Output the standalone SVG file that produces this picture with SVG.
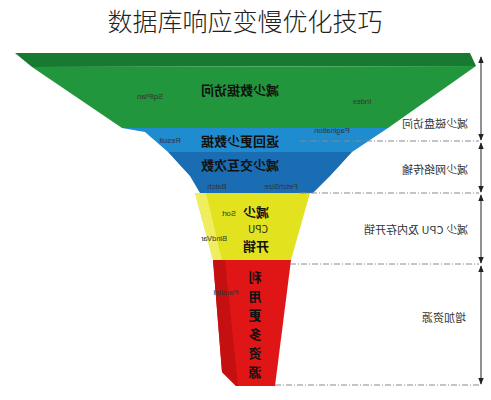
<svg xmlns="http://www.w3.org/2000/svg" width="491" height="400" viewBox="0 0 491 400">
<defs>
<marker id="ah" viewBox="0 0 10 10" refX="9" refY="5" markerWidth="7" markerHeight="7" orient="auto-start-reverse" markerUnits="userSpaceOnUse">
<path d="M0,1 L10,5 L0,9 z" fill="#222"/>
</marker>
<style>
.t{font-family:"Noto Sans CJK SC","Liberation Sans",sans-serif;}
.big{font-size:13px;font-weight:bold;fill:#111;text-anchor:middle;}
.sm{font-size:7.5px;fill:#333;text-anchor:middle;font-family:"Liberation Sans",sans-serif;}
.rl{font-size:11px;fill:#333;text-anchor:middle;}
.dash{stroke:#8a8a8a;stroke-width:1;stroke-dasharray:6,2,1,2;fill:none;}
.arr{stroke:#222;stroke-width:1;fill:none;marker-start:url(#ah);marker-end:url(#ah);}
</style>
</defs>
<rect width="491" height="400" fill="#fff"/>
<text class="t" x="245" y="31" font-size="25" font-weight="300" fill="#222" text-anchor="middle">数据库响应变慢优化技巧</text>

<g id="green">
<polygon points="15,53 470,53 476,66 32,67" fill="#167a30"/>
<polygon points="32,67 476,66 388,128 122,128" fill="#22963c"/>
<text class="t big" transform="translate(240,95) scale(-1,1)" font-size="14">减少数据访问</text>
<text class="sm" transform="translate(150,99) scale(-1,1)">SqlPlan</text>
<text class="sm" transform="translate(362,104) scale(-1,1)">Index</text>
</g>
<g id="blue1">
<polygon points="122,128 388,128 352,152 168,152 145,132" fill="#1e8ccf"/>
<text class="t big" transform="translate(240,146) scale(-1,1)" font-size="12">返回更少数据</text>
<text class="sm" transform="translate(170,143) scale(-1,1)">Result</text>
<text class="sm" transform="translate(332,133) scale(-1,1)">Pagination</text>
</g>
<g id="blue2">
<polygon points="168,152 352,152 330,176 313,193 200,193 190,176" fill="#1a6db3"/>
<text class="t big" transform="translate(240,170) scale(-1,1)" font-size="12">减少交互次数</text>
<text class="sm" transform="translate(217,189) scale(-1,1)">Batch</text>
<text class="sm" transform="translate(281,189) scale(-1,1)">FetchSize</text>
</g>
<g id="yellow">
<polygon points="195,193 310,193 291,260 213,260" fill="#e2e21e"/>
<polygon points="195,193 206,193 222,260 213,260" fill="#eeee60"/>
<text class="t big" transform="translate(256,217) scale(-1,1)" font-size="12">减少</text>
<text class="t" transform="translate(258,233) scale(-1,1)" font-size="10" fill="#222" text-anchor="middle">CPU</text>
<text class="t big" transform="translate(256,251) scale(-1,1)" font-size="12">开销</text>
<text class="sm" transform="translate(229,216) scale(-1,1)">Sort</text>
<text class="sm" transform="translate(214,241) scale(-1,1)">BindVar</text>
</g>
<g id="red">
<polygon points="213,260 291,260 275,386 236,386 222,372" fill="#e01616"/>
<polygon points="213,260 225,260 238,386 236,386 222,372" fill="#c41010"/>
<g class="t big" font-size="12">
<text transform="translate(255,282) scale(-1,1)">利</text>
<text transform="translate(255,301) scale(-1,1)">用</text>
<text transform="translate(255,320) scale(-1,1)">更</text>
<text transform="translate(255,339) scale(-1,1)">多</text>
<text transform="translate(255,358) scale(-1,1)">资</text>
<text transform="translate(255,377) scale(-1,1)">源</text>
</g>
<text class="sm" transform="translate(226,295) scale(-1,1)">Parallel</text>
</g>

<g id="connectors">
<line class="dash" x1="300" y1="141" x2="479" y2="141"/>
<line class="dash" x1="300" y1="193" x2="479" y2="193"/>
<line class="dash" x1="290" y1="264" x2="479" y2="264"/>
<line class="dash" x1="275" y1="385" x2="479" y2="385"/>
<line class="arr" x1="481" y1="57" x2="481" y2="140"/>
<line class="arr" x1="481" y1="143" x2="481" y2="192"/>
<line class="arr" x1="481" y1="195" x2="481" y2="263"/>
<line class="arr" x1="481" y1="266" x2="481" y2="384"/>
</g>
<g id="labels">
<text class="t rl" transform="translate(435,128) scale(-1,1)">减少磁盘访问</text>
<text class="t rl" transform="translate(435,174) scale(-1,1)">减少网络传输</text>
<text class="t rl" transform="translate(416,234) scale(-1,1)">减少 CPU 及内存开销</text>
<text class="t rl" transform="translate(444,322) scale(-1,1)">增加资源</text>
</g>
</svg>
